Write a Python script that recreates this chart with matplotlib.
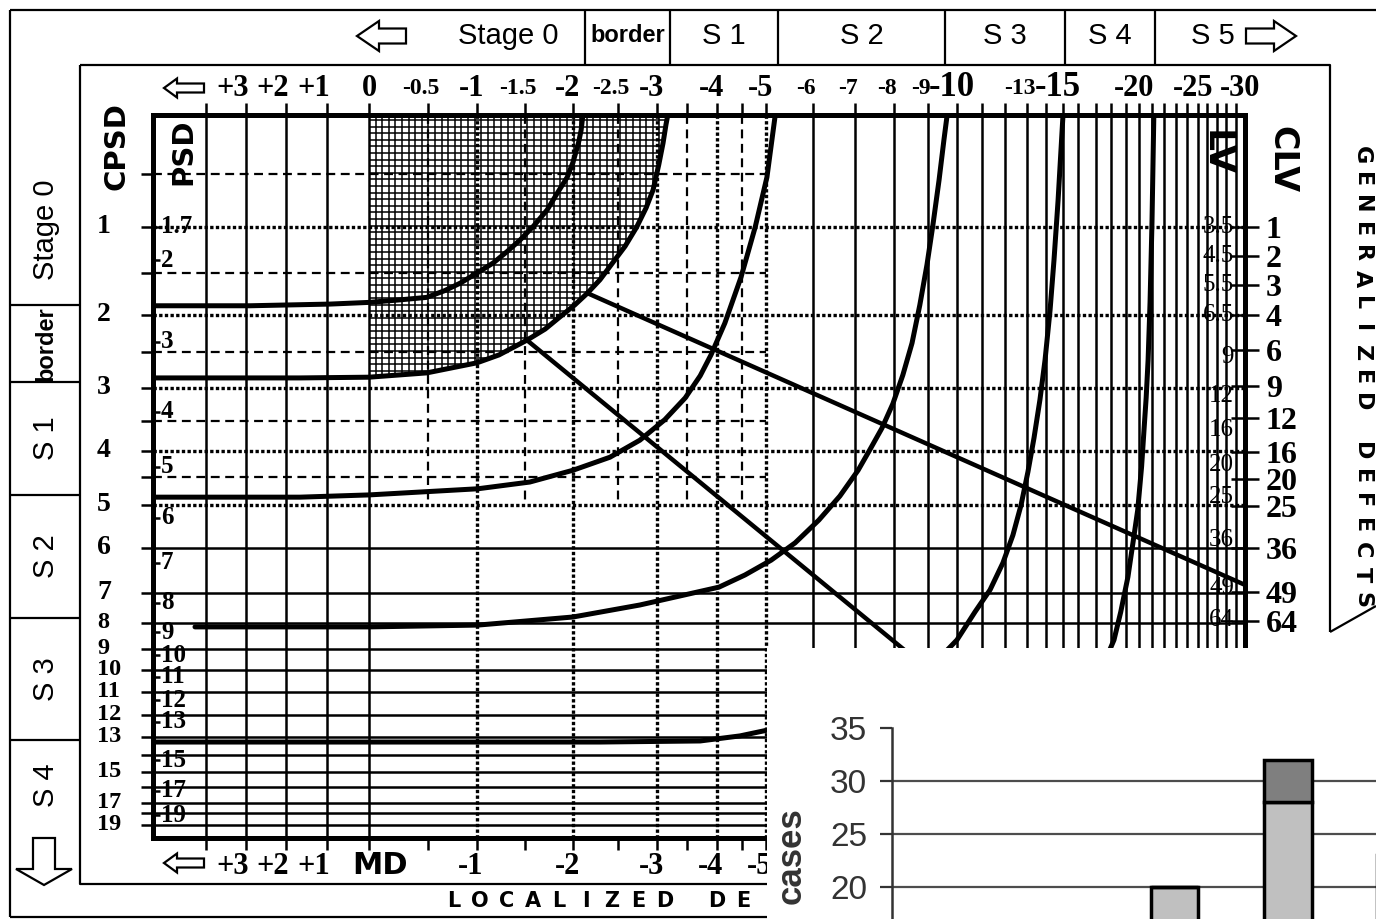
import numpy as np
import matplotlib.pyplot as plt
from matplotlib.patches import Polygon
from matplotlib.collections import LineCollection
from matplotlib.transforms import blended_transform_factory, offset_copy

plt.rcParams['font.family'] = ['Liberation Sans', 'DejaVu Sans']
SERIF = 'Liberation Serif'
HEAVY = 'DejaVu Sans'

W, H = 1376, 919

# nomogram scales: value -> pixel position on the scan (non linear axes)
md_anchor = [5.3, 4, 3, 2, 1, 0, -0.5, -1, -1.5, -2, -2.5, -3, -4, -5, -6, -7, -8, -9, -10,
             -11, -12, -13, -14, -15, -16, -17, -18, -19, -20, -21, -22, -23, -24, -25, -30]
md_pixel = [153, 206, 246, 286, 327, 369, 428, 477, 525, 573, 618, 657, 717, 766, 813, 855,
            894, 928, 957, 982, 1005, 1027, 1046, 1063, 1078, 1096, 1111, 1126, 1139, 1152,
            1164, 1176, 1187, 1198, 1245]
cpsd_anchor = [0, 0.5, 1, 1.5, 2, 2.5, 3, 3.5, 4, 4.5, 5, 6, 7, 8, 9, 10, 11, 12, 13, 14,
               15, 16, 17, 18, 19, 20]
cpsd_pixel = [115, 174, 227, 273, 315, 352, 388, 421, 451, 477, 505, 548, 593, 623, 649, 670,
              692, 715, 737, 755, 772, 787, 803, 813, 825, 838]

# MD axis
md_top = [3, 2, 1, 0, -0.5, -1, -1.5, -2, -2.5, -3, -4, -5, -6, -7, -8, -9, -10, -13, -15,
          -20, -25, -30]
md_top_labels = ['+3', '+2', '+1', '0', '-0.5', '-1', '-1.5', '-2', '-2.5', '-3', '-4', '-5',
                 '-6', '-7', '-8', '-9', '-10', '-13', '-15', '-20', '-25', '-30']
md_small = ['-0.5', '-1.5', '-2.5', '-6', '-7', '-8', '-9', '-13']
md_large = ['-10', '-15']
md_bottom = [3, 2, 1, 0, -1, -2, -3, -4, -5]
md_bottom_labels = ['+3', '+2', '+1', 'MD', '-1', '-2', '-3', '-4', '-5']

# grid of the nomogram
grid_v_solid = [4, 3, 2, 1, 0] + list(range(-6, -30, -1))
grid_v_dotted = [-1, -2, -3, -4, -5]
grid_v_dashed = [-0.5, -1.5, -2.5, -3.5, -4.5]
grid_h_dashed = [0.5, 1.5, 2.5, 3.5, 4.5]
grid_h_dotted = [1, 2, 3, 4, 5]
grid_h_solid = list(range(6, 20))

# CPSD / PSD (left), CLV / LV (right)
cpsd_ticks = [1, 2, 3, 4, 5, 6, 7, 8, 9, 10, 11, 12, 13, 15, 17, 19]
psd_labels = ['1.7', '2', '3', '4', '5', '6', '7', '8', '9', '10', '11', '12', '13', '15',
              '17', '19']
psd_pos = [1.0, 1.36, 2.36, 3.36, 4.3, 5.3, 6.33, 7.33, 8.35, 9.3, 10.3, 11.35, 12.3, 14.3,
           16.25, 18.2]
clv_values = [1, 2, 3, 4, 6, 9, 12, 16, 20, 25, 36, 49, 64]
clv_pos = [1.0, 1.32, 1.64, 2.0, 2.47, 2.97, 3.45, 4.02, 4.54, 5.02, 6.0, 6.98, 7.93]
lv_labels = ['3.5', '4.5', '5.5', '6.5', '9', '12', '16', '20', '25', '36', '49', '64']
lv_pos = [1.0, 1.32, 1.64, 2.0, 2.57, 3.12, 3.65, 4.27, 4.86, 5.81, 6.89, 7.9]

# stage borders (MD, CPSD)
iso_a_md = [5.3, 2.9, 0.93, 0, -0.26, -0.49, -0.67, -0.83, -1.0, -1.17, -1.31, -1.45, -1.59,
            -1.73, -1.83, -1.94, -2.0, -2.06, -2.09, -2.11]
iso_a_cpsd = [1.89, 1.89, 1.87, 1.85, 1.82, 1.79, 1.71, 1.62, 1.5, 1.39, 1.27, 1.14, 0.99,
              0.84, 0.69, 0.53, 0.40, 0.24, 0.13, 0.0]
iso_b_md = [5.3, 1.66, 0, -0.49, -1.0, -1.23, -1.52, -1.71, -1.86, -2.02, -2.16, -2.3, -2.44,
            -2.59, -2.74, -2.86, -2.95, -3.03, -3.1, -3.15, -3.18]
iso_b_cpsd = [2.86, 2.86, 2.85, 2.79, 2.65, 2.54, 2.34, 2.19, 2.03, 1.88, 1.74, 1.58, 1.39,
              1.21, 1.0, 0.82, 0.65, 0.42, 0.24, 0.08, 0.0]
iso_c_md = [5.3, 1.66, 0, -1.01, -1.55, -2.0, -2.41, -2.78, -3.13, -3.47, -3.72, -3.9, -4.16,
            -4.49, -4.78, -5.02, -5.19]
iso_c_cpsd = [4.86, 4.86, 4.82, 4.71, 4.59, 4.37, 4.12, 3.82, 3.48, 3.15, 2.83, 2.54, 2.11,
              1.55, 1.0, 0.53, 0.02]
iso_d_md = [4.27, 0, -1.01, -2.0, -2.78, -3.38, -4.04, -4.57, -5.11, -5.62, -6.14, -6.64,
            -7.08, -7.38, -7.69, -7.97, -8.26, -8.53, -8.76, -8.97, -9.17, -9.38, -9.55, -9.66]
iso_d_cpsd = [8.15, 8.15, 8.08, 7.8, 7.4, 7.1, 6.87, 6.6, 6.27, 5.88, 5.35, 4.84, 4.37, 3.98,
              3.62, 3.24, 2.82, 2.38, 1.88, 1.41, 0.98, 0.56, 0.21, 0.0]
iso_e_md = [5.3, 0, -2.3, -3.72, -4.47, -5.0, -6.5, -8.0, -9.0, -10.0, -10.72, -11.35, -11.91,
            -12.36, -12.73, -13.05, -13.37, -13.68, -13.95, -14.24, -14.47, -14.71, -14.88,
            -15.0]
iso_e_cpsd = [13.28, 13.28, 13.28, 13.22, 12.95, 12.7, 12.0, 11.0, 10.0, 8.65, 7.63, 6.93,
              6.33, 5.7, 5.0, 4.4, 3.78, 3.18, 2.61, 1.94, 1.36, 0.75, 0.3, 0.0]
iso_f_md = [-12.0, -14.0, -16.5, -18.2, -18.65, -19.15, -19.55, -19.9, -20.2, -20.4, -20.55,
            -20.7, -20.85, -21.0, -21.15]
iso_f_cpsd = [16.0, 14.0, 11.5, 8.65, 7.63, 6.64, 5.85, 5.12, 4.3, 3.6, 3.15, 2.61, 1.85,
              0.95, 0.02]
line_1_md = [-2.16, -30]
line_1_cpsd = [1.74, 6.82]
line_2_md = [-1.52, -10]
line_2_cpsd = [2.34, 11.05]

# stage boxes
header_stages = ['border', 'S 1', 'S 2', 'S 3', 'S 4']
side_stages = ['Stage 0', 'border', 'S 1', 'S 2', 'S 3', 'S 4']

# inset bar chart
bar_light = [20, 28, 23]
bar_dark = [0, 4, 0]
bar_yticks = [20, 25, 30, 35]


md_a = np.array(md_anchor, float)
md_p = np.array(md_pixel, float)
cp_a = np.array(cpsd_anchor, float)
cp_p = np.array(cpsd_pixel, float)


def md_fwd(v):
    return np.interp(-np.asarray(v, float), -md_a, md_p)


def md_inv(p):
    return -np.interp(np.asarray(p, float), md_p, -md_a)


def cp_fwd(v):
    return np.interp(np.asarray(v, float), cp_a, cp_p)


def cp_inv(p):
    return np.interp(np.asarray(p, float), cp_p, cp_a)


def hollow_arrow(axis, x0, y0, x1, y1, shaft, head, head_len, lw=1.6):
    d = np.array([x1 - x0, y1 - y0], float)
    L = np.hypot(*d)
    u = d / L
    n = np.array([-u[1], u[0]])
    p0 = np.array([x0, y0], float)
    b = p0 + u * (L - head_len)
    pts = [p0 + n * shaft / 2, b + n * shaft / 2, b + n * head / 2, p0 + u * L,
           b - n * head / 2, b - n * shaft / 2, p0 - n * shaft / 2]
    axis.add_patch(Polygon(pts, closed=True, facecolor='white', edgecolor='black', lw=lw))


fig = plt.figure(figsize=(W / 100, H / 100), dpi=100)

# overlay in pixel units for the frames / boxes
ov = fig.add_axes([0, 0, 1, 1], zorder=0)
ov.set_xlim(0, W)
ov.set_ylim(H, 0)
ov.axis('off')

# main nomogram
ax = fig.add_axes([153 / W, 1 - 838 / H, (1245 - 153) / W, (838 - 115) / H], zorder=1)
ax.set_facecolor('none')
ax.set_xscale('function', functions=(md_fwd, md_inv))
ax.set_yscale('function', functions=(cp_fwd, cp_inv))
ax.set_xlim(md_anchor[0], md_anchor[-1])
ax.set_ylim(cpsd_anchor[-1], cpsd_anchor[0])

x0, x1 = md_anchor[0], md_anchor[-1]
ax.vlines(grid_v_solid, 0, 20, colors='black', lw=1.8, zorder=1)
ax.vlines(grid_v_dotted, 0, 20, colors='black', lw=2.4, linestyles=(0, (1, 0.7)), zorder=1)
ax.vlines(grid_v_dashed, 0, 5, colors='black', lw=1.6, linestyles=(0, (4, 2.5)), zorder=1)
ax.hlines(grid_h_dashed, x0, -5, colors='black', lw=1.6, linestyles=(0, (4, 2.5)), zorder=1)
ax.hlines(grid_h_dotted, x0, x1, colors='black', lw=2.4, linestyles=(0, (1, 0.7)), zorder=1)
ax.hlines(grid_h_solid, x0, x1, colors='black', lw=1.8, zorder=1)

for mdv, cpv in [(iso_a_md, iso_a_cpsd), (iso_b_md, iso_b_cpsd), (iso_c_md, iso_c_cpsd),
                 (iso_d_md, iso_d_cpsd), (iso_e_md, iso_e_cpsd), (iso_f_md, iso_f_cpsd)]:
    ax.plot(mdv, cpv, color='black', lw=3.6, solid_capstyle='round',
            solid_joinstyle='round', zorder=4)
ax.plot(line_1_md, line_1_cpsd, color='black', lw=3.2, zorder=4)
ax.plot(line_2_md, line_2_cpsd, color='black', lw=3.2, zorder=4)

# ticks
all_md_ticks = sorted(set(grid_v_solid + grid_v_dotted + grid_v_dashed))
ax.set_xticks(all_md_ticks)
ax.tick_params(axis='x', which='both', top=True, bottom=True, direction='out', length=8.5,
               width=1.8, labelbottom=False, labeltop=False)
ax.set_yticks(sorted(grid_h_dashed + grid_h_dotted + grid_h_solid))
ax.set_yticks(psd_pos, minor=True)
ax.yaxis.remove_overlapping_locs = False
ax.tick_params(axis='y', which='major', left=True, right=False, direction='out', length=9,
               width=1.8, labelleft=False)
ax.tick_params(axis='y', which='minor', left=True, right=False, direction='in', length=5,
               width=1.8, labelleft=False)
for s in ax.spines.values():
    s.set_linewidth(3.6)

# make sure MD runs from +5 on the left to -30 on the right
ax.set_xlim(md_anchor[0], md_anchor[-1])
if ax.transData.transform([(-30, 1)])[0, 0] < ax.transData.transform([(0, 1)])[0, 0]:
    ax.invert_xaxis()

# fine cross-hatched area: MD >= 0 side, above the border line B
b_md = np.array(iso_b_md)
b_cp = np.array(iso_b_cpsd)
sel = b_md <= 0
hatch_poly = Polygon([(0, 0)] + list(zip(b_md[sel], b_cp[sel])), closed=True,
                     transform=ax.transData)
ax_left = ax.transAxes.transform([(0, 0)])[0, 0]
ax_w = ax.transAxes.transform([(1, 1)])[0, 0] - ax_left
ax_h = ax.transAxes.transform([(1, 1)])[0, 1] - ax.transAxes.transform([(0, 0)])[0, 1]
fx0 = (ax.transData.transform([(0, 1)])[0, 0] - ax_left) / ax_w
step = 6.6
segs = [[(fx0 + k * step / ax_w, 0), (fx0 + k * step / ax_w, 1)] for k in range(55)]
segs += [[(0, 1 - (5 + k * step) / ax_h), (1, 1 - (5 + k * step) / ax_h)] for k in range(45)]
lc = LineCollection(segs, colors='black', linewidths=1.1, transform=ax.transAxes, zorder=2)
ax.add_collection(lc)
lc.set_clip_path(hatch_poly)

# MD labels (top and bottom)
tr_x = blended_transform_factory(ax.transData, ov.transData)
for v, t in zip(md_top, md_top_labels):
    if t.startswith('+'):
        dx = -13
    elif t in md_small:
        dx = -7
    elif t.startswith('-'):
        dx = -5
    else:
        dx = 0
    size = 17 if t in md_small else (25 if t in md_large else 22)
    ax.text(v, 88, t, transform=offset_copy(tr_x, fig, x=dx, units='dots'), ha='center',
            va='center', fontsize=size, family=SERIF, weight='bold')
for v, t in zip(md_bottom, md_bottom_labels):
    if t == 'MD':
        ax.text(v, 866, t, transform=offset_copy(tr_x, fig, x=11, units='dots'), ha='center',
                va='center', fontsize=22, family=HEAVY, weight='bold')
        continue
    dx = -13 if t.startswith('+') else -6
    ax.text(v, 866, t, transform=offset_copy(tr_x, fig, x=dx, units='dots'), ha='center',
            va='center', fontsize=22, family=SERIF, weight='bold')

# CPSD / PSD / LV labels
tr_y = blended_transform_factory(ov.transData, ax.transData)
for v in cpsd_ticks:
    ax.text(97, v, str(v), transform=tr_y, ha='left', va='center',
            fontsize=20 if v < 8 else 17.5, family=SERIF, weight='bold')
for v, t in zip(psd_pos, psd_labels):
    ax.text(161, v, t, transform=tr_y, ha='left', va='center', fontsize=18, family=SERIF,
            weight='bold')
for v, t in zip(lv_pos, lv_labels):
    ax.text(1234, v, t, transform=tr_y, ha='right', va='center', fontsize=18, family=SERIF,
            zorder=5)

# CLV on the right
rax = ax.twinx()
rax.set_yscale('function', functions=(cp_fwd, cp_inv))
rax.set_ylim(cpsd_anchor[-1], cpsd_anchor[0])
rax.set_yticks(clv_pos, labels=[str(v) for v in clv_values], fontsize=23,
               fontfamily=SERIF, fontweight='bold')
rax.tick_params(axis='y', direction='inout', length=20, width=1.8, pad=5)
for k, s in rax.spines.items():
    s.set_visible(k == 'right')
    s.set_linewidth(3.6)

# frames and stage boxes
ln = dict(color='black', lw=1.6, solid_capstyle='butt')
ov.plot([10, W], [10, 10], **ln)
ov.plot([10, 10], [10, 917], **ln)
ov.plot([10, W], [917, 917], **ln)
ov.plot([80, 1330, 1330], [65, 65, 632], **ln)
ov.plot([80, 80, W], [65, 884, 884], **ln)
ov.plot([1330, W], [632, 606], **ln)
header_x = [585, 670, 778, 945, 1065, 1155]
for x in header_x:
    ov.plot([x, x], [10, 65], **ln)
for t, a, b in zip(header_stages, header_x[:-1], header_x[1:]):
    if t == 'border':
        ov.text((a + b) / 2, 36, t, ha='center', va='center', fontsize=17, weight='bold')
    else:
        ov.text((a + b) / 2, 36, t, ha='center', va='center', fontsize=21)
ov.text(508, 36, 'Stage 0', ha='center', va='center', fontsize=21)
ov.text(1213, 36, 'S 5', ha='center', va='center', fontsize=21)
hollow_arrow(ov, 406, 36, 357, 36, 15, 30, 22)
hollow_arrow(ov, 1246, 36, 1296, 36, 15, 30, 22)
hollow_arrow(ov, 204, 88, 164, 88, 9, 19, 13)
hollow_arrow(ov, 204, 863, 164, 863, 9, 19, 13)
hollow_arrow(ov, 44, 838, 44, 885, 22, 56, 16)

side_y = [155, 305, 382, 495, 618, 740, 830]
for y in side_y[1:-1]:
    ov.plot([10, 80], [y, y], **ln)
for t, a, b in zip(side_stages, side_y[:-1], side_y[1:]):
    if t == 'border':
        ov.text(46, (a + b) / 2, t, ha='center', va='center', rotation=90, fontsize=17,
                weight='bold')
    else:
        ov.text(46, (a + b) / 2, t, ha='center', va='center', rotation=90, fontsize=21)

ov.text(116, 146, 'CPSD', ha='center', va='center', rotation=90, fontsize=21, family=HEAVY,
        weight='bold')
ov.text(183, 152, 'PSD', ha='center', va='center', rotation=90, fontsize=21, family=HEAVY,
        weight='bold')
ov.text(1216, 153, 'LV', ha='center', va='center', rotation=-90, fontsize=26, family=HEAVY,
        weight='bold')
ov.text(1282, 160, 'CLV', ha='center', va='center', rotation=-90, fontsize=24, family=HEAVY,
        weight='bold')
for i, ch in enumerate('GENERALIZED DEFECTS'):
    ov.text(1362, 155 + i * 24.7, ch, ha='center', va='center', rotation=-90, fontsize=16,
            family=HEAVY, weight='bold')
for i, ch in enumerate('LOCALIZED DEFECTS'):
    if 454 + i * 26.3 < 767:
        ov.text(454 + i * 26.3, 901, ch, ha='center', va='center', fontsize=15, family=HEAVY,
                weight='bold')

# inset bar chart pasted over the lower right corner
bg = fig.add_axes([767 / W, 0, (W - 767) / W, (H - 648) / H], zorder=5)
bg.set_facecolor('white')
bg.set_xticks([])
bg.set_yticks([])
for s in bg.spines.values():
    s.set_visible(False)

bx = fig.add_axes([892 / W, 0, (W - 892) / W, (H - 728) / H], zorder=6)
bx.set_facecolor('none')
xpos = np.arange(len(bar_light))
bx.set_xlim(-2.5, 1.78)
bx.set_ylim(16.98, 35)
bx.hlines(bar_yticks[:-1], -2.5, 1.78, colors='#4d4d4d', lw=1.6, zorder=0)
bx.bar(xpos, bar_light, width=0.42, color='#c0c0c0', edgecolor='black', lw=2.5, zorder=2)
bx.bar(xpos, bar_dark, bottom=bar_light, width=0.42, color='#7f7f7f', edgecolor='black',
       lw=2.5, zorder=2)
bx.set_xticks([])
bx.set_yticks(bar_yticks)
bx.tick_params(axis='y', length=9, width=1.6, color='#333333', labelcolor='#333333',
               labelsize=24, pad=9)
for k, s in bx.spines.items():
    s.set_visible(k == 'left')
bx.spines['left'].set_linewidth(1.8)
bx.spines['left'].set_color('#333333')
bx.set_ylabel('cases', fontsize=25, weight='bold', color='#333333')
bx.yaxis.set_label_coords(-0.175, 0.33)

fig.savefig('out.png', dpi=100)
